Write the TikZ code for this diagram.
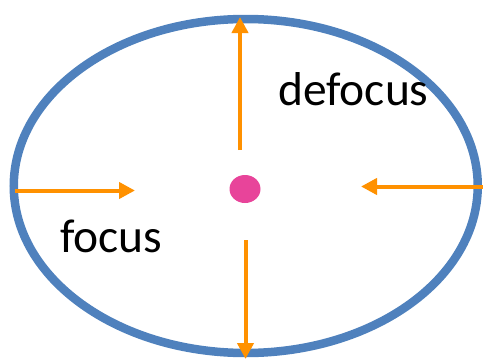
\documentclass[tikz,border=0pt]{standalone}
\usepackage{fontspec}
\setmainfont{Carlito}
\usetikzlibrary{arrows.meta,shapes.geometric}
\definecolor{ringblue}{HTML}{4F81BD}
\definecolor{arroworange}{HTML}{FF9100}
\definecolor{dotpink}{HTML}{E8449A}
\tikzset{
  ray/.style={draw=arroworange, line width=4pt, -{Triangle[width=16pt,length=16pt]}},
  lbl/.style={font=\fontsize{47.5}{57}\selectfont, inner sep=0pt, anchor=base west}
}
\begin{document}
\begin{tikzpicture}[x=1pt,y=-1pt]
\useasboundingbox (0,0) rectangle (483,362);
\node[draw=ringblue, line width=8.5pt, ellipse, minimum width=464pt, minimum height=334pt, inner sep=0pt] (ring) at (245.75,186) {};
\node[fill=dotpink, ellipse, minimum width=31pt, minimum height=28pt, inner sep=0pt] (dot) at (245,189) {};
\coordinate (tS) at (240,150); \coordinate (tE) at (240,17);
\coordinate (bS) at (245.5,240); \coordinate (bE) at (245.5,359);
\coordinate (lS) at (15,190.5); \coordinate (lE) at (135,190.5);
\coordinate (rS) at (483,186.5); \coordinate (rE) at (361,186.5);
\draw[ray] (tS) -- (tE);
\draw[ray] (bS) -- (bE);
\draw[ray] (lS) -- (lE);
\draw[ray] (rS) -- (rE);
\node[lbl] (defocus) at (278,105) {defocus};
\node[lbl] (focus) at (60,252) {focus};
\end{tikzpicture}
\end{document}
